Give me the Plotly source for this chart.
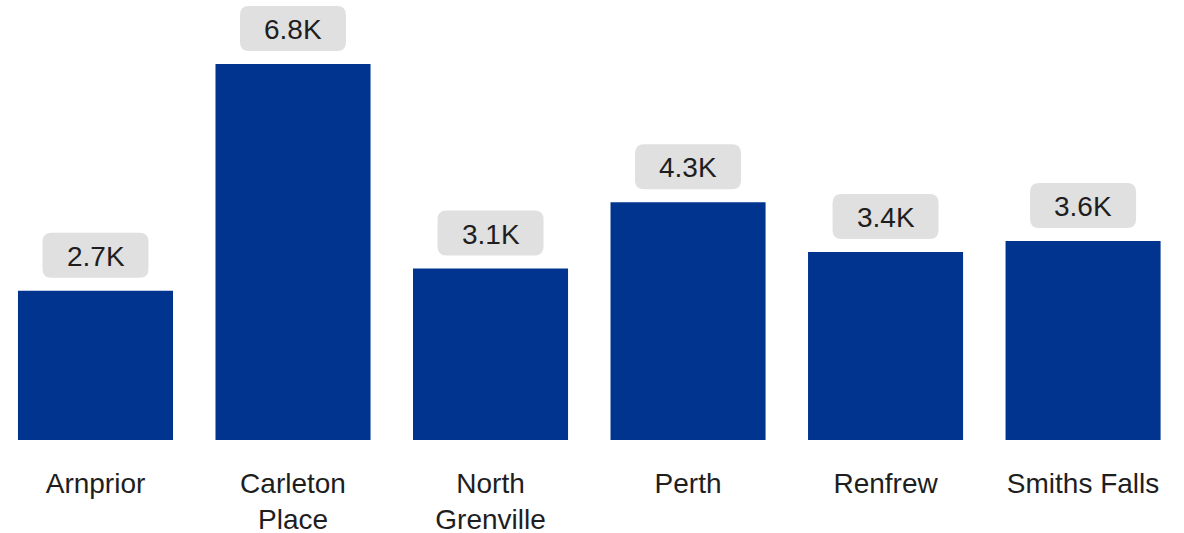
import plotly.graph_objects as go

# Town totals
towns = ["Arnprior", "Carleton<br>Place", "North<br>Grenville", "Perth", "Renfrew", "Smiths Falls"]
values = [2700, 6800, 3100, 4300, 3400, 3600]
labels = ["2.7K", "6.8K", "3.1K", "4.3K", "3.4K", "3.6K"]

BAR_COLOR = "#00348E"
PILL_COLOR = "#E0E0E0"
TEXT_COLOR = "#1E1E1E"
FONT = "Liberation Sans, Arial, sans-serif"

fig = go.Figure(
    go.Bar(
        x=list(range(len(towns))),
        y=values,
        marker=dict(color=BAR_COLOR, line=dict(width=0)),
        width=0.785,
        hoverinfo="skip",
    )
)

# Rounded label pills, sized in pixels and anchored to each bar top
PW, PH, R, GAP = 106, 45, 9, 13
def pill_path(w, h, r, gap):
    x0, x1 = -w / 2, w / 2
    y0, y1 = gap, gap + h
    return (
        f"M {x0 + r},{y0} L {x1 - r},{y0} Q {x1},{y0} {x1},{y0 + r} "
        f"L {x1},{y1 - r} Q {x1},{y1} {x1 - r},{y1} "
        f"L {x0 + r},{y1} Q {x0},{y1} {x0},{y1 - r} "
        f"L {x0},{y0 + r} Q {x0},{y0} {x0 + r},{y0} Z"
    )

shapes = []
annotations = []
for i, (v, lab) in enumerate(zip(values, labels)):
    shapes.append(dict(
        type="path", xref="x", yref="y",
        xsizemode="pixel", ysizemode="pixel",
        xanchor=i, yanchor=v,
        path=pill_path(PW, PH, R, GAP),
        fillcolor=PILL_COLOR, line=dict(width=0), layer="above",
    ))
    annotations.append(dict(
        x=i, y=v, xref="x", yref="y", text=lab, showarrow=False,
        yanchor="middle", yshift=GAP + PH / 2 - 1,
        font=dict(family=FONT, size=28, color=TEXT_COLOR),
    ))

fig.update_layout(
    width=1184, height=533,
    margin=dict(l=0, r=0, t=0, b=93),
    paper_bgcolor="white", plot_bgcolor="white",
    showlegend=False,
    shapes=shapes, annotations=annotations,
    xaxis=dict(
        tickmode="array", tickvals=list(range(len(towns))), ticktext=towns,
        range=[-0.4835, 5.511], showgrid=False, zeroline=False, showline=False,
        ticks="", ticklabelstandoff=24, automargin=False,
        tickfont=dict(family=FONT, size=28, color=TEXT_COLOR),
        fixedrange=True,
    ),
    yaxis=dict(
        range=[0, 7957], visible=False, showgrid=False, zeroline=False,
        fixedrange=True, automargin=False,
    ),
)

fig.write_html("out.html")
